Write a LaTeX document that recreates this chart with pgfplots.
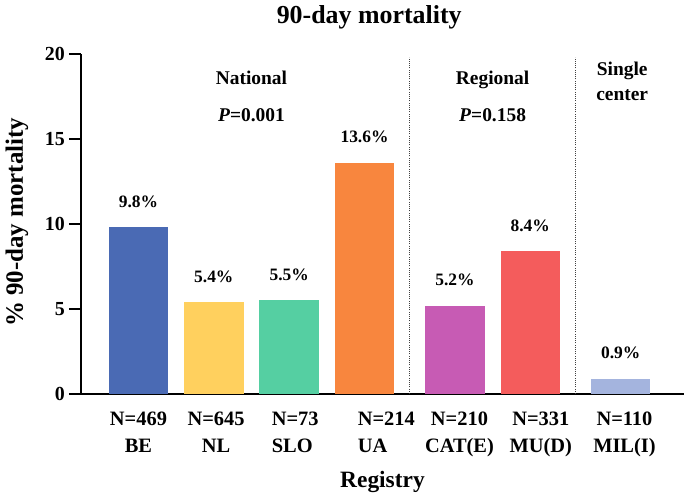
\documentclass[border=0pt]{standalone}
\usepackage{pgfplots}
\pgfplotsset{compat=1.18}
\usepackage{fontspec}
\setmainfont{Liberation Serif}
\definecolor{cBE}{HTML}{4A6AB4}
\definecolor{cNL}{HTML}{FFD05E}
\definecolor{cSLO}{HTML}{55CFA2}
\definecolor{cUA}{HTML}{F8863E}
\definecolor{cCAT}{HTML}{C75BB4}
\definecolor{cMU}{HTML}{F45C5C}
\definecolor{cMIL}{HTML}{A4B4DE}
\begin{document}
\begin{tikzpicture}
\begin{axis}[
  scale only axis, width=603bp, height=340bp,
  xmin=-0.763, xmax=7.24, ymin=0, ymax=20,
  axis x line*=bottom, axis y line*=left,
  axis line style={line width=1.6bp, black},
  ytick={0,5,10,15,20},
  xtick={0,1.03,2.08,3.29,4.26,5.34,6.45},
  xticklabels={{N=469\\BE},{N=645\\NL},{N=73\\\rlap{SLO}\phantom{N=73}},{N=214\\\rlap{UA}\phantom{N=214}},{N=210\\CAT(E)},{N=331\\MU(D)},{N=110\\MIL(I)}},
  xtick style={draw=none},
  ytick style={line width=1.6bp, black},
  tick align=outside, major tick length=12bp,
  /pgf/number format/assume math mode=true,
  yticklabel style={font=\fontsize{20}{22}\selectfont\bfseries, anchor=east, inner sep=0pt, xshift=-4bp},
  xticklabel style={font=\fontsize{20.5}{27}\selectfont\bfseries, align=center, anchor=north, inner sep=0pt, yshift=-6bp},
  xlabel={Registry},
  xlabel style={at={(axis description cs:0.5,-0.276)}, anchor=base, font=\fontsize{23.5}{26}\selectfont\bfseries},
  ylabel={\% 90-day mortality},
  ylabel style={at={(axis description cs:-0.0962,0.505)}, anchor=base, rotate=0, font=\fontsize{25}{28}\selectfont\bfseries},
  title={90-day mortality},
  title style={at={(axis description cs:0.478,1.072)}, anchor=base, font=\fontsize{26}{30}\selectfont\bfseries},
  clip=false,
  nodes near coords={\pgfmathprintnumber[fixed,precision=1,fixed zerofill]{\pgfplotspointmeta}\%},
  every node near coord/.append style={font=\fontsize{17.5}{20}\selectfont\bfseries, anchor=base, inner sep=0pt, yshift=20bp},
]
\addplot[ybar, bar width=0.79, bar shift=0pt, fill=cBE, draw=none] coordinates {(0,9.8)};
\addplot[ybar, bar width=0.79, bar shift=0pt, fill=cNL, draw=none] coordinates {(1,5.4)};
\addplot[ybar, bar width=0.79, bar shift=0pt, fill=cSLO, draw=none] coordinates {(2,5.5)};
\addplot[ybar, bar width=0.79, bar shift=0pt, fill=cUA, draw=none] coordinates {(3,13.6)};
\addplot[ybar, bar width=0.79, bar shift=0pt, fill=cCAT, draw=none] coordinates {(4.2,5.2)};
\addplot[ybar, bar width=0.79, bar shift=0pt, fill=cMU, draw=none] coordinates {(5.2,8.4)};
\addplot[ybar, bar width=0.79, bar shift=0pt, fill=cMIL, draw=none] coordinates {(6.4,0.9)};
\addplot[no marks, nodes near coords={}, black!75, line width=0.9bp, dash pattern=on 1bp off 1.2bp] coordinates {(3.6,0) (3.6,19.8)};
\addplot[no marks, nodes near coords={}, black!75, line width=0.9bp, dash pattern=on 1bp off 1.2bp] coordinates {(5.8,0) (5.8,19.8)};
\node[font=\fontsize{19.5}{22}\selectfont\bfseries, anchor=base] at (axis cs:1.5,18.18) {National};
\node[font=\fontsize{19.5}{22}\selectfont\bfseries, anchor=base] at (axis cs:1.5,16.0) {\textit{P}=0.001};
\node[font=\fontsize{19.5}{22}\selectfont\bfseries, anchor=base] at (axis cs:4.7,18.18) {Regional};
\node[font=\fontsize{19.5}{22}\selectfont\bfseries, anchor=base] at (axis cs:4.7,16.0) {\textit{P}=0.158};
\node[font=\fontsize{19.5}{22}\selectfont\bfseries, anchor=base] at (axis cs:6.42,18.75) {Single};
\node[font=\fontsize{19.5}{22}\selectfont\bfseries, anchor=base] at (axis cs:6.42,17.25) {center};
\coordinate (BL) at (rel axis cs:-0.1343,-0.2941);
\coordinate (TR) at (rel axis cs:1.0017,1.1588);
\end{axis}
\pgfresetboundingbox
\path[use as bounding box] (BL) rectangle (TR);
\end{tikzpicture}
\end{document}
